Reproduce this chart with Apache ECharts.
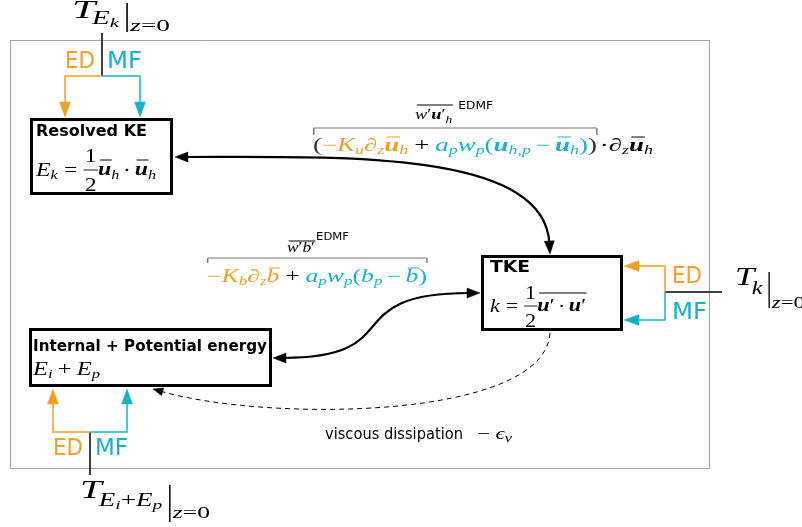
<!DOCTYPE html>
<html><head><meta charset="utf-8">
<script src="https://cdn.jsdelivr.net/npm/echarts@6/dist/echarts.min.js"></script>
<style>html,body{margin:0;padding:0;background:#fff}#c{width:802px;height:527px}</style>
</head><body><div id="c"></div>
<script>
// ---------------- content (text of the diagram) ----------------
const boxTitles = ['Resolved KE', 'TKE', 'Internal + Potential energy'];
const fluxTypes = ['ED', 'MF'];
const fluxTag = 'EDMF';
const dissipationText = 'viscous dissipation';
const surfaceSymbols = ['T', 'E', 'k', 'i', 'p', 'z', '=', '0'];
const energySymbols = ['E', 'k', 'i', 'p', 'u', 'h', '\u2032', '\u00B7', '1', '2'];
const fluxSymbols = ['w', 'K', 'u', 'b', '\u2202', 'z', 'a', 'p', 'h,p', '\u2212', '+', '(', ')'];
const dissipationSymbols = ['\u2212', '\u03F5', '\u03BD'];

// ---------------- styles ----------------
const OR = '#EEA02A', CY = '#18B2C6', K = '#000';
const SERIF = 'Liberation Serif';
const SANS = 'DejaVu Sans';

const cv = document.createElement('canvas').getContext('2d');
function fontOf(tk) { return (tk.it ? 'italic ' : 'normal ') + (tk.bd ? 'bold ' : 'normal ') + tk.sz + 'px "' + (tk.ff || SERIF) + '"'; }
function meas(tk) { cv.font = fontOf(tk); return cv.measureText(tk.t).width; }

function I(t, sz, dy, c) { return { t, sz, dy: dy || 0, c: c || K, it: true }; }
function R(t, sz, dy, c) { return { t, sz, dy: dy || 0, c: c || K }; }
function Bd(t, sz, dy, c) { return { t, sz, dy: dy || 0, c: c || K, it: true, bd: true }; }
function Sa(t, sz, dy, c) { return { t, sz, dy: dy || 0, c: c || K, ff: SANS }; }
const S = n => ({ sp: n });
const OS = { ovS: 1 };
const OE = (dy, c) => ({ ovE: 1, dy, c });
const MK = n => ({ mark: n });
const BAR = (a, b) => ({ bar: [a, b] });
const FR = (n, d, sz, dn, dd, db) => ({ frac: 1, n, d, sz, dn, dd, db });

function T(x, dy, tk) {
  return { type: 'text', x: x, y: dy - 0.34 * tk.sz, z: 10,
    style: { text: tk.t, fontStyle: tk.it ? 'italic' : 'normal', fontWeight: tk.bd ? 'bold' : 'normal', fontSize: tk.sz,
      fontFamily: tk.ff || SERIF, fill: tk.c || K, align: 'left', verticalAlign: 'middle', textAlign: 'left', textVerticalAlign: 'middle' } };
}
function L(x1, y1, x2, y2, c, w, dash) {
  const s = { stroke: c, lineWidth: w };
  if (dash) s.lineDash = dash;
  return { type: 'line', shape: { x1, y1, x2, y2 }, style: s };
}
function layout(tokens) {
  let x = 0; const els = []; const marks = {}; const ov = [];
  for (const tk of tokens) {
    if (tk.sp !== undefined) { x += tk.sp; continue; }
    if (tk.mark) { marks[tk.mark] = x; continue; }
    if (tk.ovS) { ov.push(x); continue; }
    if (tk.ovE) { const x0 = ov.pop(); els.push(L(x0 + 1.5, tk.dy, x + 0.5, tk.dy, tk.c || K, 1)); continue; }
    if (tk.bar) { els.push(L(x + 1, tk.bar[0], x + 1, tk.bar[1], K, 1)); x += 2; continue; }
    if (tk.frac) {
      const a = { t: tk.n, sz: tk.sz }, b = { t: tk.d, sz: tk.sz };
      const wa = meas(a), wb = meas(b), w = Math.max(wa, wb) + 2;
      els.push(T(x + (w - wa) / 2, tk.dn, a));
      els.push(T(x + (w - wb) / 2, tk.dd, b));
      els.push(L(x, tk.db, x + w, tk.db, K, 0.8));
      x += w; continue;
    }
    els.push(T(x, tk.dy, tk)); x += meas(tk);
  }
  return { els, w: x, marks };
}
function mathGroup(tokens, x, base, targetW, extra) {
  const r = layout(tokens);
  if (extra) extra(r);
  return { type: 'group', x: x, y: base, scaleX: targetW ? targetW / r.w : 1, children: r.els };
}
function fitText(str, sz, ff, bold, x, base, targetW, color) {
  const tk = { t: str, sz, ff, bd: bold, c: color };
  const w = meas(tk);
  return { type: 'group', x: x, y: base, scaleX: targetW / w, children: [T(0, 0, tk)] };
}
function head(tx, ty, dx, dy, len, hw, c) {
  const n = Math.hypot(dx, dy); dx /= n; dy /= n;
  const bx = tx - dx * len, by = ty - dy * len;
  return { type: 'polygon', z: 5, shape: { points: [[tx, ty], [bx - dy * hw, by + dx * hw], [bx + dy * hw, by - dx * hw]] },
    style: { fill: c, stroke: c, lineWidth: 0.5 } };
}
function cubic(P0, P1, P2, P3, o) {
  const out = [];
  let a = P0.slice(), b = P1.slice(), c = P2.slice(), d = P3.slice();
  if (o.end) {
    let dx = P3[0] - P2[0], dy = P3[1] - P2[1]; const n = Math.hypot(dx, dy); dx /= n; dy /= n;
    const s = o.len * 0.8; d = [P3[0] - dx * s, P3[1] - dy * s]; c = [P2[0] - dx * s, P2[1] - dy * s];
    out.push(head(P3[0], P3[1], dx, dy, o.len, o.hw, o.c));
  }
  if (o.start) {
    let dx = P0[0] - P1[0], dy = P0[1] - P1[1]; const n = Math.hypot(dx, dy); dx /= n; dy /= n;
    const s = o.len * 0.8; a = [P0[0] - dx * s, P0[1] - dy * s]; b = [P1[0] - dx * s, P1[1] - dy * s];
    out.push(head(P0[0], P0[1], dx, dy, o.len, o.hw, o.c));
  }
  const st = { stroke: o.c, lineWidth: o.lw, fill: 'transparent' };
  if (o.dash) st.lineDash = o.dash;
  out.unshift({ type: 'bezierCurve', shape: { x1: a[0], y1: a[1], cpx1: b[0], cpy1: b[1], cpx2: c[0], cpy2: c[1], x2: d[0], y2: d[1] }, style: st });
  return out;
}
function poly(pts, c, w) { return { type: 'polyline', shape: { points: pts }, style: { stroke: c, lineWidth: w, fill: 'transparent' } }; }

// ---------------- build ----------------
const els = [];
els.push({ type: 'rect', shape: { x: 10.5, y: 40.5, width: 699, height: 428 }, style: { fill: 'transparent', stroke: '#444', lineWidth: 1, lineDash: [1, 1] } });

[[31.5, 119.5, 140, 74], [482.5, 256.5, 139, 73], [30.5, 329.5, 240, 56]].forEach(r => {
  els.push({ type: 'rect', shape: { x: r[0], y: r[1], width: r[2], height: r[3] }, style: { fill: '#fff', stroke: K, lineWidth: 3 } });
});
els.push(fitText(boxTitles[0], 15, SANS, true, 36, 137, 111, K));
els.push(fitText(boxTitles[1], 15, SANS, true, 490, 273, 40, K));
els.push(fitText(boxTitles[2], 15, SANS, true, 33, 352, 234, K));

const [sT, sE, sk, si, sp, sz, sEq, s0] = surfaceSymbols;
const [eE, ek, ei, ep, eu, eh, ePr, eDot, e1, e2] = energySymbols;
els.push(mathGroup([I(eE, 19), I(ek, 13, 3), S(5), R('=', 19), S(5), FR(e1, e2, 19, -14, 15, -7),
  OS, Bd(eu, 19), OE(-17), I(eh, 13, 3), S(3), R(eDot, 19), S(3), OS, Bd(eu, 19), OE(-17), I(eh, 13, 3)], 36, 177, 120));
els.push(mathGroup([I(ek, 19), S(5), R('=', 19), S(5), FR(e1, e2, 19, -13, 15, -7),
  OS, Bd(eu, 19), R(ePr, 19), S(3), R(eDot, 19), S(3), Bd(eu, 19), R(ePr, 19), OE(-20)], 490, 313, 96));
els.push(mathGroup([I(eE, 19), I(ei, 13, 3), S(4), R('+', 19), S(4), I(eE, 19), I(ep, 13, 3)], 33, 376, 67));

els.push(mathGroup([I(sT, 26), S(-2), I(sE, 18, 5), I(sk, 13, 8), S(4), BAR(-17, 12), S(1), I(sz, 17, 12), R(sEq, 17, 12), R(s0, 17, 12)], 72, 20, 98));
els.push(L(102, 33, 102, 76, K, 1.5));
els.push(poly([[102, 76], [65, 76], [65, 104]], OR, 1.5));
els.push(head(65, 117, 0, 1, 15, 5.5, OR));
els.push(poly([[102, 76], [140, 76], [140, 104]], CY, 1.5));
els.push(head(140, 117, 0, 1, 15, 5.5, CY));
els.push(fitText(fluxTypes[0], 23, SANS, false, 65, 70, 30, OR));
els.push(fitText(fluxTypes[1], 23, SANS, false, 107, 70, 35, CY));

els.push(mathGroup([I(sT, 26), S(-2), I(sk, 18, 8), S(4), BAR(-15, 21), S(1), I(sz, 17, 22), R(sEq, 17, 22), R(s0, 17, 22)], 735, 287, 70));
els.push(L(665, 292, 722, 292, K, 1.5));
els.push(poly([[665, 292], [665, 266], [637, 266]], OR, 1.5));
els.push(head(624, 266, -1, 0, 15, 5.5, OR));
els.push(poly([[665, 292], [665, 320], [637, 320]], CY, 1.5));
els.push(head(624, 320, -1, 0, 15, 5.5, CY));
els.push(fitText(fluxTypes[0], 23, SANS, false, 672, 285, 30, OR));
els.push(fitText(fluxTypes[1], 23, SANS, false, 672, 321, 35, CY));

els.push(mathGroup([I(sT, 26), S(-2), I(sE, 18, 7), I(si, 13, 10), R('+', 18, 7), I(sE, 18, 7), I(sp, 13, 10), S(4), BAR(-15, 22), S(1), I(sz, 17, 19), R(sEq, 17, 19), R(s0, 17, 19)], 80, 500, 130));
els.push(L(90, 432, 90, 475, K, 1.5));
els.push(poly([[90, 432], [53, 432], [53, 403]], OR, 1.5));
els.push(head(53, 389, 0, -1, 15, 5.5, OR));
els.push(poly([[90, 432], [127, 432], [127, 403]], CY, 1.5));
els.push(head(127, 389, 0, -1, 15, 5.5, CY));
els.push(fitText(fluxTypes[0], 23, SANS, false, 53, 457, 30, OR));
els.push(fitText(fluxTypes[1], 23, SANS, false, 95, 457, 33, CY));

cubic([175, 157], [330, 157], [545, 160], [550, 254], { start: true, end: true, len: 13, hw: 5, c: K, lw: 2.2 }).forEach(e => els.push(e));
cubic([273, 358], [400, 358], [345, 293], [480, 293], { start: true, end: true, len: 13, hw: 5, c: K, lw: 2.2 }).forEach(e => els.push(e));
cubic([550, 333], [545, 420], [260, 420], [153, 389], { end: true, len: 10, hw: 4, c: K, lw: 1, dash: [5, 4] }).forEach(e => els.push(e));

const [fw, fK, fu, fb, fd, fz, fa, fp, fhp, fm, fpl, fo, fc] = fluxSymbols;
function bracket(dyTop, dyTick) {
  return r => {
    const m0 = r.marks.b0, m1 = r.marks.b1;
    r.els.push(L(m0 + 0.5, dyTop, m1, dyTop, '#777', 1));
    r.els.push(L(m0 + 0.5, dyTop, m0 + 0.5, dyTick, '#777', 1));
    r.els.push(L(m1, dyTop, m1, dyTick, '#777', 1));
  };
}
els.push(mathGroup([MK('b0'), R(fo, 18, 0, '#333'), R(fm, 18, 0, OR), I(fK, 18, 0, OR), I(fu, 12, 3, OR), I(fd, 18, 0, OR), I(fz, 12, 3, OR),
  OS, Bd(fu, 18, 0, OR), OE(-15, OR), I('h', 12, 3, OR), S(4), R(fpl, 18), S(4),
  I(fa, 18, 0, CY), I(fp, 12, 3, CY), I(fw, 18, 0, CY), I(fp, 12, 3, CY), R(fo, 18, 0, CY), Bd(fu, 18, 0, CY), I(fhp, 12, 3, CY), S(3), R(fm, 18, 0, CY), S(3),
  OS, Bd(fu, 18, 0, CY), OE(-15, CY), I('h', 12, 3, CY), R(fc, 18, 0, CY), R(fc, 18, 0, '#333'), MK('b1'), S(2),
  R('\u00B7', 18), I(fd, 18), I(fz, 12, 3), OS, Bd(fu, 18), OE(-15), I('h', 12, 3)], 313, 152, 340, bracket(-24, -17)));
els.push(mathGroup([MK('b0'), R(fm, 18, 0, OR), I(fK, 18, 0, OR), I(fb, 12, 3, OR), I(fd, 18, 0, OR), I(fz, 12, 3, OR), OS, I(fb, 18, 0, OR), OE(-15, OR),
  S(4), R(fpl, 18), S(4), I(fa, 18, 0, CY), I(fp, 12, 3, CY), I(fw, 18, 0, CY), I(fp, 12, 3, CY), R(fo, 18, 0, CY), I(fb, 18, 0, CY), I(fp, 12, 3, CY),
  S(3), R(fm, 18, 0, CY), S(3), OS, I(fb, 18, 0, CY), OE(-15, CY), R(fc, 18, 0, CY), MK('b1')], 207, 283, 220, bracket(-25, -20)));

els.push(mathGroup([OS, I(fw, 15), R(ePr, 15), Bd(fu, 15), R(ePr, 15), I('h', 11, 4), OE(-15), S(5), Sa(fluxTag, 10, -10)], 415, 120, 78));
els.push(mathGroup([OS, I(fw, 15), R(ePr, 15), I(fb, 15), R(ePr, 15), OE(-12), S(1), Sa(fluxTag, 10, -12)], 287, 253, 62));

els.push(fitText(dissipationText, 15, SANS, false, 325, 440, 138, K));
els.push(mathGroup([R(dissipationSymbols[0], 17), S(4), I(dissipationSymbols[1], 17), I(dissipationSymbols[2], 12, 3)], 477, 440, 35));

const chart = echarts.init(document.getElementById('c'), null, { renderer: 'canvas' });
chart.setOption({ animation: false, backgroundColor: '#fff', graphic: { elements: els } });
</script></body></html>
